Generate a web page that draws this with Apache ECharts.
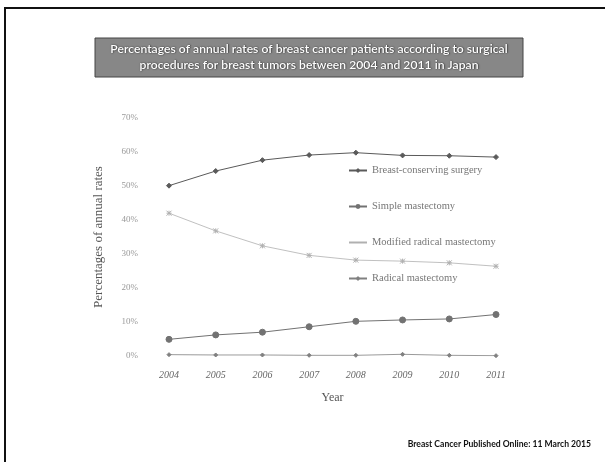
<!DOCTYPE html>
<html>
<head>
<meta charset="utf-8">
<script src="https://cdn.jsdelivr.net/npm/echarts@6/dist/echarts.min.js"></script>
<style>
  html, body { margin: 0; padding: 0; background: #fff; }
  #chart { width: 610px; height: 462px; }
</style>
</head>
<body>
<div id="chart"></div>
<script>
// Surgical procedure shares by year (% of annual cases)
const years = ['2004', '2005', '2006', '2007', '2008', '2009', '2010', '2011'];
const breastConserving = [50.1, 54.4, 57.6, 59.1, 59.8, 59.0, 58.9, 58.5];
const simpleMastectomy = [4.9, 6.2, 7.0, 8.6, 10.2, 10.6, 10.9, 12.2];
const modifiedRadical = [42.0, 36.8, 32.4, 29.6, 28.2, 27.9, 27.4, 26.4];
const radicalMastectomy = [0.4, 0.3, 0.3, 0.2, 0.2, 0.5, 0.2, 0.1];
const seriesNames = ['Breast-conserving surgery', 'Simple mastectomy', 'Modified radical mastectomy', 'Radical mastectomy'];
const yTicks = ['0%', '10%', '20%', '30%', '40%', '50%', '60%', '70%'];

const titleLines = 'Percentages of annual rates of breast cancer patients according to surgical\nprocedures for breast tumors between 2004 and 2011 in Japan';
const sourceNote = 'Breast Cancer Published Online: 11 March 2015';

const serif = '"Liberation Serif", "DejaVu Serif", serif';
const crossPath = 'path://M0,0 L10,10 M10,0 L0,10 M5,0 L5,10 M0,5 L10,5';

const chart = echarts.init(document.getElementById('chart'), null, { renderer: 'canvas' });

function lineSeries(name, data, color, symbol, size, width) {
  return {
    name: name,
    type: 'line',
    data: data,
    symbol: symbol,
    symbolSize: size,
    lineStyle: { color: color, width: width },
    itemStyle: { color: color, borderColor: color },
    emphasis: { disabled: true },
    animation: false
  };
}

chart.setOption({
  backgroundColor: '#ffffff',
  animation: false,
  grid: { left: 169, right: 114, top: 118, bottom: 106 },
  graphic: [
    // page frame: top rule and left rule
    { type: 'rect', shape: { x: 5, y: 7, width: 600, height: 2 }, style: { fill: '#111' } },
    { type: 'rect', shape: { x: 4, y: 7, width: 2, height: 455 }, style: { fill: '#111' } },
    // heading box
    { type: 'rect', shape: { x: 95, y: 38, width: 428, height: 39 },
      style: { fill: '#878787', stroke: '#444', lineWidth: 1 } },
    { type: 'text', x: 309, y: 41,
      style: { text: titleLines, fill: '#ffffff', font: '600 12.2px Lato, "Open Sans", sans-serif',
               align: 'center', verticalAlign: 'top', lineHeight: 16,
               textShadowColor: 'rgba(0,0,0,0.85)', textShadowBlur: 1.5,
               textShadowOffsetX: 0.5, textShadowOffsetY: 0.5 } },
    // source note
    { type: 'text', x: 591, y: 440,
      style: { text: sourceNote, fill: '#111', align: 'right', verticalAlign: 'top',
               font: 'bold 8.6px Lato, "Open Sans", sans-serif' } }
  ],
  legend: {
    orient: 'vertical',
    left: 343,
    top: 160,
    itemGap: 25,
    itemWidth: 18,
    itemHeight: 6,
    data: seriesNames,
    textStyle: { fontFamily: serif, fontSize: 10.5, color: '#777' },
    selectedMode: false
  },
  xAxis: {
    type: 'category',
    data: years,
    boundaryGap: false,
    name: 'Year',
    nameLocation: 'middle',
    nameGap: 36,
    nameTextStyle: { fontFamily: serif, fontSize: 12, color: '#555' },
    axisLine: { show: false },
    axisTick: { show: false },
    axisLabel: { margin: 14, fontFamily: serif, fontSize: 10, color: '#666', fontStyle: 'italic' },
    splitLine: { show: false }
  },
  yAxis: {
    type: 'value',
    min: 0,
    max: 70,
    interval: 10,
    name: 'Percentages of annual rates',
    nameLocation: 'middle',
    nameGap: 64,
    nameTextStyle: { fontFamily: serif, fontSize: 13, color: '#555' },
    axisLine: { show: false },
    axisTick: { show: false },
    splitLine: { show: false },
    axisLabel: {
      margin: 31,
      fontFamily: serif,
      fontSize: 9,
      color: '#999',
      formatter: function (v) { return yTicks[Math.round(v / 10)]; }
    }
  },
  series: [
    lineSeries(seriesNames[0], breastConserving, '#5a5a5a', 'diamond', 5, 1),
    lineSeries(seriesNames[1], simpleMastectomy, '#727272', 'circle', 6, 1),
    lineSeries(seriesNames[2], modifiedRadical, '#b0b0b0', crossPath, 5, 0.8),
    lineSeries(seriesNames[3], radicalMastectomy, '#808080', 'diamond', 4, 0.8)
  ]
});
</script>
</body>
</html>
